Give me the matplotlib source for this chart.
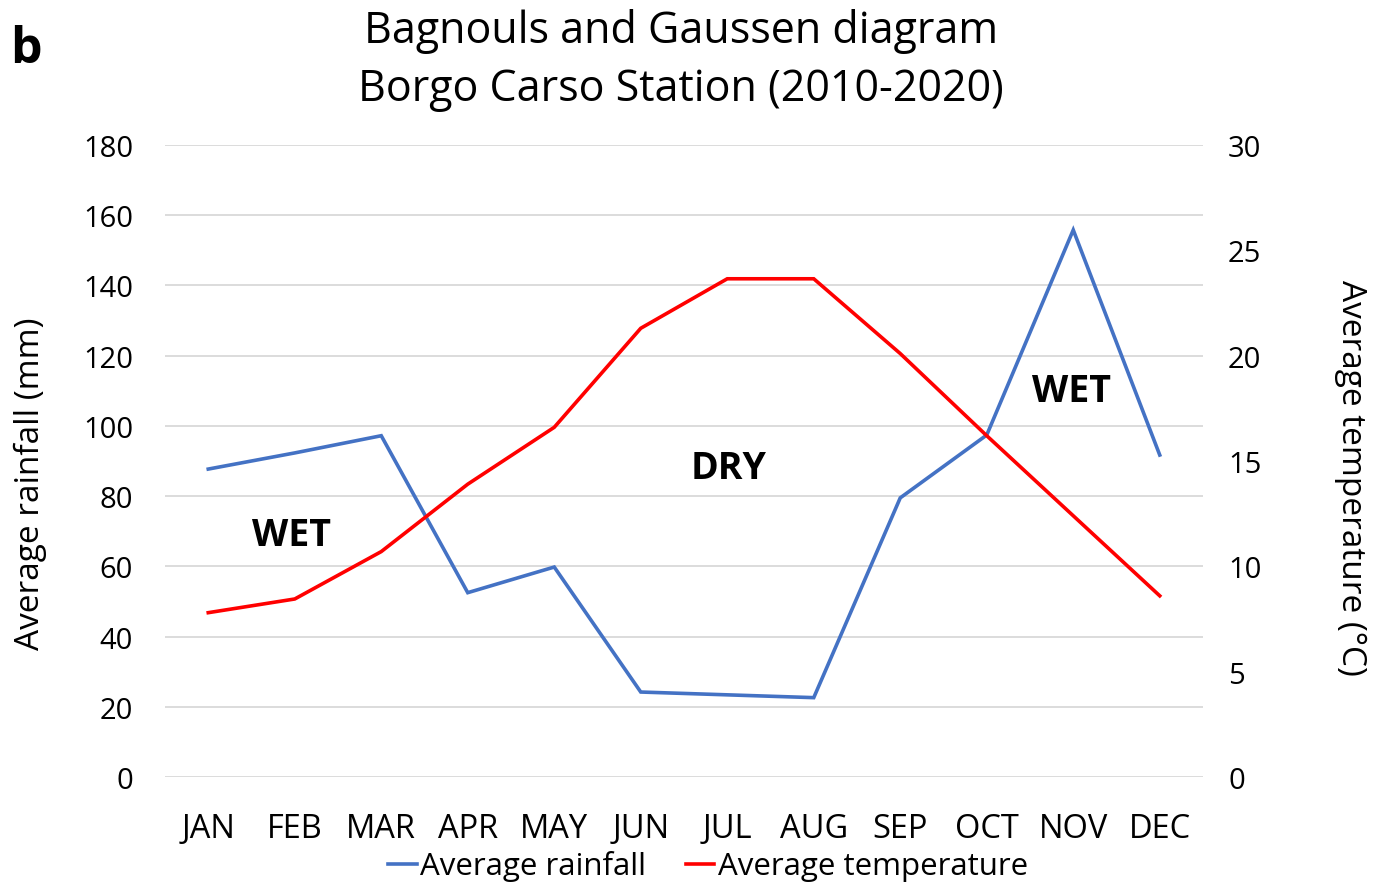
import matplotlib
matplotlib.use("Agg")
import matplotlib.pyplot as plt
from matplotlib.lines import Line2D

months = ["JAN", "FEB", "MAR", "APR", "MAY", "JUN", "JUL", "AUG", "SEP", "OCT", "NOV", "DEC"]
rainfall = [87.7, 92.3, 97.2, 52.5, 59.8, 24.2, 23.4, 22.6, 79.5, 97.4, 155.8, 91.7]
temperature = [7.8, 8.45, 10.7, 13.9, 16.6, 21.3, 23.65, 23.65, 20.1, 16.2, 12.4, 8.6]
rain_ticks = [0, 20, 40, 60, 80, 100, 120, 140, 160, 180]
temp_ticks = [0, 5, 10, 15, 20, 25, 30]

plt.rcParams['font.family'] = ['Open Sans', 'DejaVu Sans']

fig = plt.figure(figsize=(13.81, 8.87), dpi=100)
ax = fig.add_axes([165/1381, 1-778/887, (1203-165)/1381, (778-146)/887])
ax2 = ax.twinx()

x = list(range(len(months)))
ax.plot(x, rainfall, color="#4472C4", lw=2.6, solid_joinstyle="miter")
ax2.plot(x, temperature, color="#FF0000", lw=2.6, solid_joinstyle="miter")

ax.set_xlim(-0.5, 11.5)
ax.set_ylim(0, 180)
ax2.set_ylim(0, 30)
ax.set_yticks(rain_ticks)
ax2.set_yticks(temp_ticks)
ax.set_xticks(x)
ax.set_xticklabels(months)
for a in (ax, ax2):
    for s in a.spines.values():
        s.set_visible(False)
    a.tick_params(length=0, labelsize=21, colors="black")
ax.tick_params(axis="y", pad=23)
ax2.tick_params(axis="y", pad=18)
ax.tick_params(axis="x", pad=25, labelsize=23.5)
ax.grid(axis="y", color="#D9D9D9", lw=1.3)
ax.set_axisbelow(True)

fig.text(30/1381, 1-484/887, "Average rainfall (mm)", fontsize=24, rotation=90,
         ha="center", va="center")
fig.text(1350/1381, 1-478/887, "Average temperature (°C)", fontsize=24, rotation=270,
         ha="center", va="center")

ax.text(0.96, 69, "WET", fontsize=27, fontweight="bold", ha="center", va="center")
ax.text(6.02, 88, "DRY", fontsize=27, fontweight="bold", ha="center", va="center")
ax.text(9.98, 110, "WET", fontsize=27, fontweight="bold", ha="center", va="center")

fig.text(681/1381, 1-32/887, "Bagnouls and Gaussen diagram",
         fontsize=31, ha="center", va="center")
fig.text(681/1381, 1-90/887, "Borgo Carso Station (2010-2020)",
         fontsize=31, ha="center", va="center")
fig.text(10/1381, 1-50/887, "b", fontsize=36, fontweight="bold", ha="left", va="center")

handles = [Line2D([], [], color="#4472C4", lw=2.6), Line2D([], [], color="#FF0000", lw=2.6)]
fig.legend(handles, ["Average rainfall", "Average temperature"], loc="center",
           bbox_to_anchor=(708/1381, 1-867/887), ncol=2, frameon=False, fontsize=22.5,
           handlelength=0.9, handletextpad=0.1, columnspacing=1.3)

fig.savefig("out.png", dpi=100)
